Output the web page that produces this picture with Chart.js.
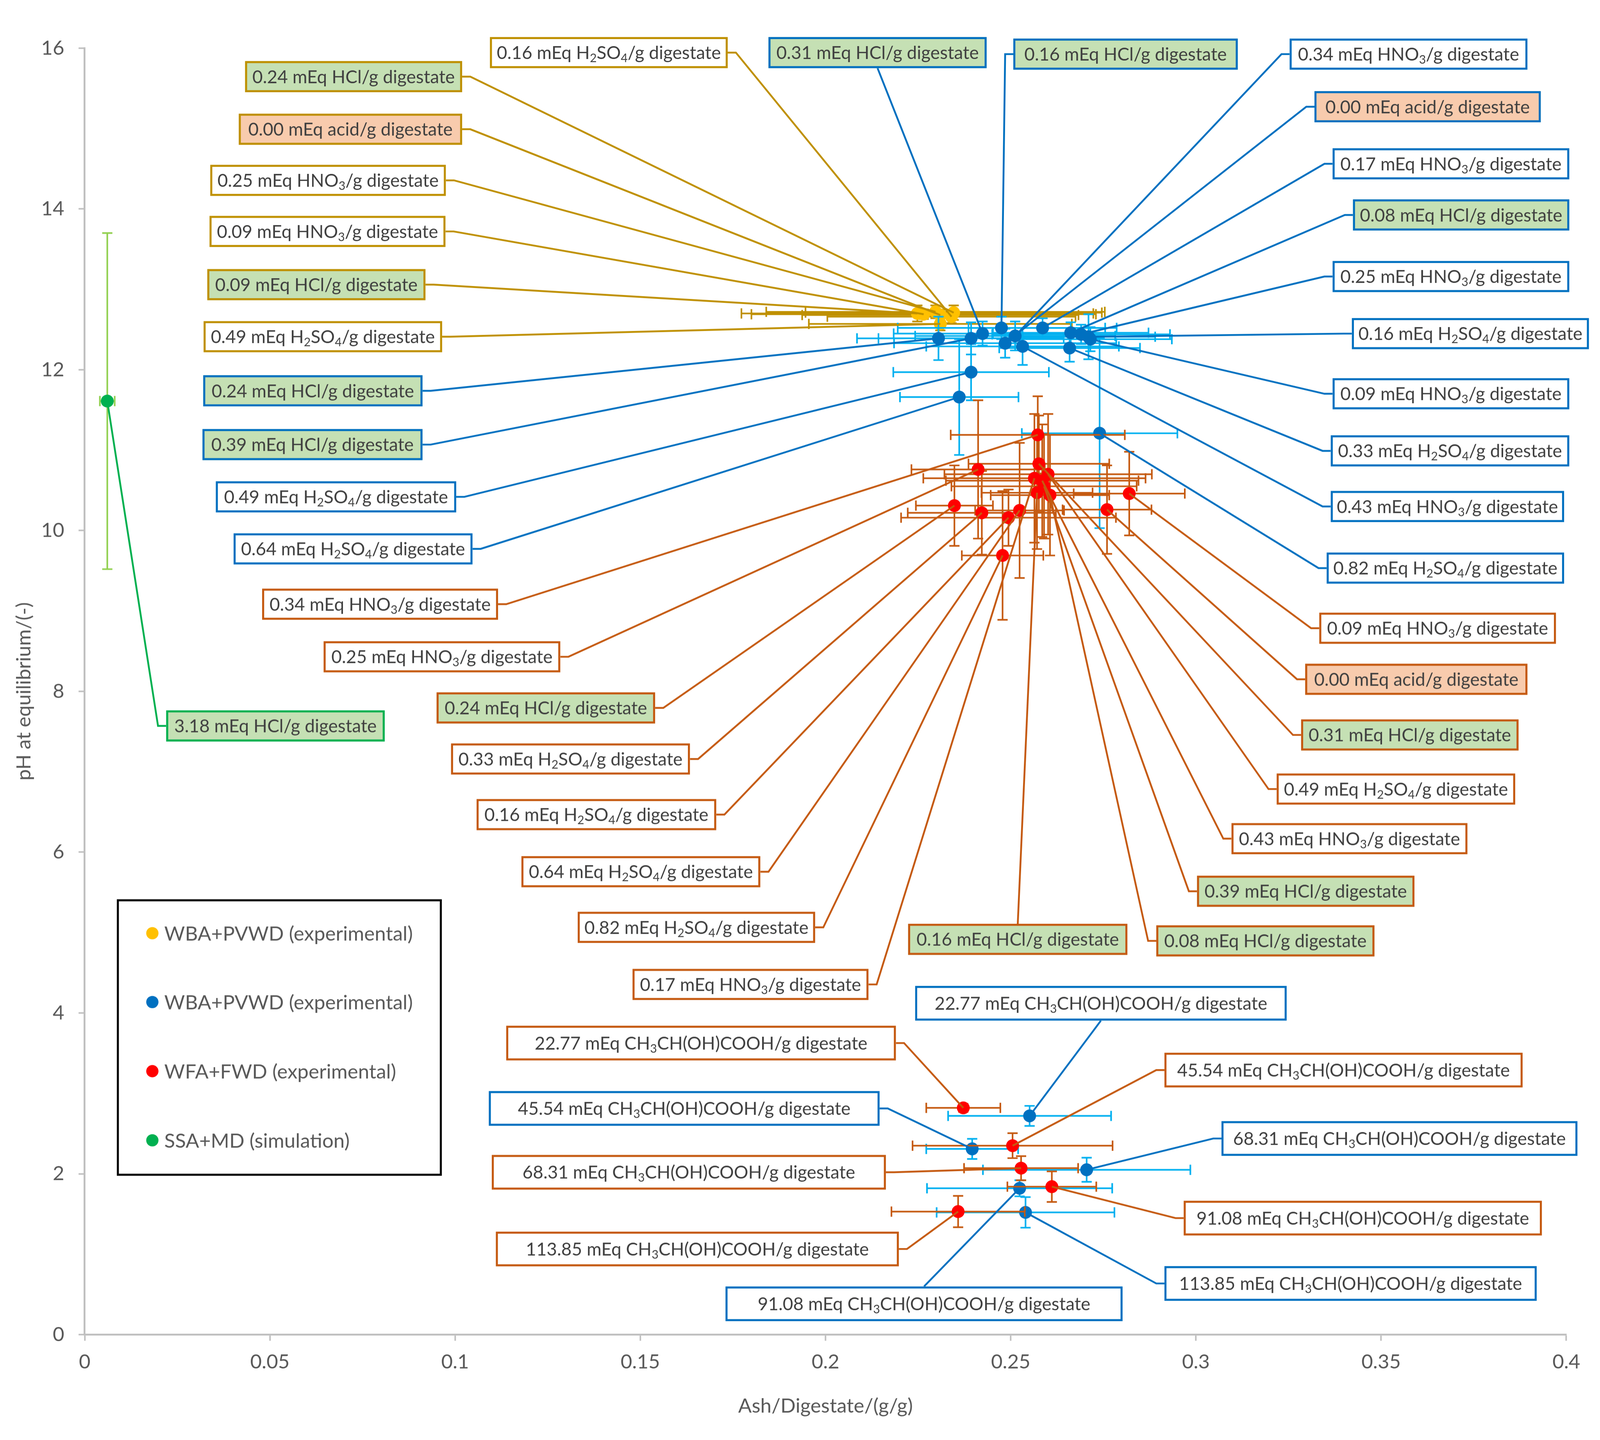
<!DOCTYPE html>
<html>
<head>
<meta charset="utf-8">
<script src="https://cdn.jsdelivr.net/npm/chart.js@4.4.1/dist/chart.umd.min.js"></script>
<style>
  html, body { margin: 0; padding: 0; overflow: hidden; background: #fff; }
  #wrap { position: absolute; left: 0; top: 0; transform-origin: 0 0; }
</style>
</head>
<body>
<div id="wrap"><canvas id="phChart"></canvas></div>
<script>
// axis ticks
const xTickLabels = ['0', '0.05', '0.1', '0.15', '0.2', '0.25', '0.3', '0.35', '0.4'];
const yTickLabels = ['0', '2', '4', '6', '8', '10', '12', '14', '16'];
const seriesNames = ['WBA+PVWD (experimental)', 'WBA+PVWD (experimental)', 'WFA+FWD (experimental)', 'SSA+MD (simulation)'];

// yellow series (WBA+PVWD)
const yellowX = [0.2340, 0.2346, 0.2310, 0.2297, 0.2265, 0.2248, 0.2310];
const yellowY = [12.66, 12.71, 12.68, 12.72, 12.69, 12.70, 12.57];
const yellowXErr = [0.0335, 0.0400, 0.0373, 0.0457, 0.0465, 0.0475, 0.0355];
const yellowYErr = [0.08, 0.09, 0.07, 0.08, 0.06, 0.10, 0.08];
const yellowText = ['0.16 mEq H{2}SO{4}/g digestate', '0.24 mEq HCl/g digestate', '0.00 mEq acid/g digestate',
  '0.25 mEq HNO{3}/g digestate', '0.09 mEq HNO{3}/g digestate', '0.09 mEq HCl/g digestate', '0.49 mEq H{2}SO{4}/g digestate'];

// blue series (WBA+PVWD)
const blueX = [0.2305, 0.2393, 0.2393, 0.2361, 0.2424, 0.2475, 0.2512, 0.2485, 0.2586, 0.2662, 0.2690, 0.2710, 0.2715, 0.2659, 0.2532, 0.2740,
  0.2551, 0.2396, 0.2705, 0.2524, 0.2540];
const blueY = [12.39, 12.39, 11.97, 11.66, 12.45, 12.52, 12.42, 12.33, 12.52, 12.46, 12.44, 12.41, 12.38, 12.27, 12.29, 11.21,
  2.72, 2.31, 2.05, 1.82, 1.52];
const blueXErr = [0.022, 0.025, 0.021, 0.016, 0.024, 0.028, 0.027, 0.030, 0.020, 0.021, 0.024, 0.018, 0.022, 0.019, 0.026, 0.021,
  0.022, 0.0124, 0.028, 0.025, 0.024];
const blueYErr = [0.27, 0.20, 0.35, 0.72, 0.15, 0.14, 0.18, 0.18, 0.12, 0.13, 0.12, 0.28, 0.15, 0.17, 0.23, 1.18,
  0.125, 0.125, 0.15, 0.10, 0.19];
const blueText = ['0.24 mEq HCl/g digestate', '0.39 mEq HCl/g digestate', '0.49 mEq H{2}SO{4}/g digestate', '0.64 mEq H{2}SO{4}/g digestate',
  '0.31 mEq HCl/g digestate', '0.16 mEq HCl/g digestate', '0.34 mEq HNO{3}/g digestate', '0.00 mEq acid/g digestate',
  '0.17 mEq HNO{3}/g digestate', '0.08 mEq HCl/g digestate', '0.25 mEq HNO{3}/g digestate', '0.16 mEq H{2}SO{4}/g digestate',
  '0.09 mEq HNO{3}/g digestate', '0.33 mEq H{2}SO{4}/g digestate', '0.43 mEq HNO{3}/g digestate', '0.82 mEq H{2}SO{4}/g digestate',
  '22.77 mEq CH{3}CH(OH)COOH/g digestate', '45.54 mEq CH{3}CH(OH)COOH/g digestate', '68.31 mEq CH{3}CH(OH)COOH/g digestate',
  '91.08 mEq CH{3}CH(OH)COOH/g digestate', '113.85 mEq CH{3}CH(OH)COOH/g digestate'];

// red series (WFA+FWD)
const redX = [0.2573, 0.2412, 0.2348, 0.2422, 0.2494, 0.2524, 0.2478, 0.2564, 0.2571, 0.2820, 0.2760, 0.2576, 0.2601, 0.2585, 0.2590, 0.2606,
  0.2372, 0.2505, 0.2528, 0.2611, 0.2358];
const redY = [11.19, 10.76, 10.31, 10.22, 10.16, 10.25, 9.69, 10.65, 10.47, 10.46, 10.26, 10.83, 10.70, 10.62, 10.55, 10.44,
  2.82, 2.35, 2.07, 1.84, 1.53];
const redXErr = [0.0235, 0.018, 0.0104, 0.020, 0.029, 0.012, 0.011, 0.030, 0.015, 0.015, 0.012, 0.019, 0.028, 0.026, 0.025, 0.016,
  0.010, 0.027, 0.0154, 0.012, 0.018];
const redYErr = [0.48, 0.86, 0.50, 0.52, 0.35, 0.84, 0.80, 0.80, 0.70, 0.52, 0.55, 0.60, 0.75, 0.70, 0.65, 0.75,
  0.05, 0.155, 0.15, 0.19, 0.195];
const redText = ['0.34 mEq HNO{3}/g digestate', '0.25 mEq HNO{3}/g digestate', '0.24 mEq HCl/g digestate', '0.33 mEq H{2}SO{4}/g digestate',
  '0.16 mEq H{2}SO{4}/g digestate', '0.64 mEq H{2}SO{4}/g digestate', '0.82 mEq H{2}SO{4}/g digestate', '0.17 mEq HNO{3}/g digestate',
  '0.16 mEq HCl/g digestate', '0.09 mEq HNO{3}/g digestate', '0.00 mEq acid/g digestate', '0.31 mEq HCl/g digestate',
  '0.49 mEq H{2}SO{4}/g digestate', '0.43 mEq HNO{3}/g digestate', '0.39 mEq HCl/g digestate', '0.08 mEq HCl/g digestate',
  '22.77 mEq CH{3}CH(OH)COOH/g digestate', '45.54 mEq CH{3}CH(OH)COOH/g digestate', '68.31 mEq CH{3}CH(OH)COOH/g digestate',
  '91.08 mEq CH{3}CH(OH)COOH/g digestate', '113.85 mEq CH{3}CH(OH)COOH/g digestate'];

// green series (SSA+MD)
const greenX = [0.0061];
const greenY = [11.61];
const greenXErr = [0.002];
const greenYErr = [2.09];
const greenText = ['3.18 mEq HCl/g digestate'];

// label box layout, in axis units: [left x, right x, centre y]
const yellowBoxes = [[0.1094, 0.1736, 15.944], [0.0433, 0.1019, 15.645], [0.0416, 0.1019, 14.991], [0.0339, 0.0975, 14.355],
  [0.0337, 0.0974, 13.720], [0.0331, 0.0920, 13.058], [0.0321, 0.0965, 12.411]];
const blueBoxes = [[0.0320, 0.0912, 11.738], [0.0318, 0.0912, 11.069], [0.0354, 0.1003, 10.419], [0.0402, 0.1047, 9.772],
  [0.1846, 0.2435, 15.944], [0.2507, 0.3113, 15.925], [0.3253, 0.3895, 15.925], [0.3320, 0.3931, 15.271],
  [0.3369, 0.4008, 14.561], [0.3424, 0.4008, 13.925], [0.3369, 0.4008, 13.159], [0.3421, 0.4061, 12.449],
  [0.3369, 0.4008, 11.701], [0.3364, 0.4008, 10.991], [0.3364, 0.3994, 10.299], [0.3353, 0.3994, 9.533],
  [0.2242, 0.3245, 4.121], [0.1091, 0.2146, 2.813], [0.3069, 0.4030, 2.439], [0.1730, 0.2802, 0.383], [0.2915, 0.3920, 0.636]];
const redBoxes = [[0.0479, 0.1116, 9.084], [0.0645, 0.1284, 8.430], [0.0950, 0.1540, 7.794], [0.0989, 0.1634, 7.159],
  [0.1058, 0.1705, 6.467], [0.1179, 0.1824, 5.757], [0.1331, 0.1972, 5.065], [0.1479, 0.2116, 4.355],
  [0.2223, 0.2815, 4.916], [0.3333, 0.3972, 8.785], [0.3295, 0.3895, 8.150], [0.3284, 0.3871, 7.458],
  [0.3218, 0.3862, 6.785], [0.3096, 0.3733, 6.168], [0.3003, 0.3590, 5.514], [0.2893, 0.3482, 4.897],
  [0.1138, 0.2190, 3.626], [0.2915, 0.3882, 3.290], [0.1099, 0.2163, 2.019], [0.2967, 0.3934, 1.449], [0.1110, 0.2198, 1.065]];
const greenBoxes = [[0.0220, 0.0810, 7.570]];

const FAMILY = 'Lato, "Open Sans", sans-serif';
// the drawing is laid out on a 1568-wide frame; height follows the window
const W = 1568;
const S = window.innerWidth / W;
const H = window.innerHeight / S;
const K = H / (W * 3686 / 6031);
const wrap = document.getElementById('wrap');
wrap.style.width = W + 'px';
wrap.style.height = H + 'px';
wrap.style.transform = 'scale(' + S + ')';

const mctx = document.createElement('canvas').getContext('2d');
function fitSize(str, target) {
  mctx.font = '100px ' + FAMILY;
  return 100 * target / mctx.measureText(str).width;
}
const labelSize = fitSize('0.24 mEq HCl/g digestate', 198.5);
const axisSize = fitSize('WBA+PVWD (experimental)', 243.6);

function pts(xs, ys) { return xs.map((x, i) => ({ x: x, y: ys[i] })); }

function richParts(text) {
  const parts = [];
  const re = /\{([^}]*)\}/g;
  let last = 0, m;
  while ((m = re.exec(text))) {
    if (m.index > last) parts.push({ t: text.slice(last, m.index), sub: false });
    parts.push({ t: m[1], sub: true });
    last = re.lastIndex;
  }
  if (last < text.length) parts.push({ t: text.slice(last), sub: false });
  return parts;
}

function drawRich(ctx, text, cx, cy, size) {
  const parts = richParts(text);
  const fMain = size + 'px ' + FAMILY, fSub = (size * 0.66) + 'px ' + FAMILY;
  let w = 0;
  parts.forEach(p => { ctx.font = p.sub ? fSub : fMain; p.w = ctx.measureText(p.t).width; w += p.w; });
  let x = cx - w / 2;
  const base = cy + size * 0.36;
  ctx.textAlign = 'left';
  ctx.textBaseline = 'alphabetic';
  parts.forEach(p => {
    ctx.font = p.sub ? fSub : fMain;
    ctx.fillText(p.t, x, p.sub ? base + size * 0.17 : base);
    x += p.w;
  });
}

const errorBars = {
  id: 'errorBars',
  beforeDatasetDraw(chart, args) {
    const ds = chart.data.datasets[args.index];
    const ctx = chart.ctx, xs = chart.scales.x, ys = chart.scales.y;
    ctx.save();
    ctx.strokeStyle = ds.errColor;
    ctx.lineWidth = 1.6;
    ds.data.forEach((p, i) => {
      const cx = xs.getPixelForValue(p.x), cy = ys.getPixelForValue(p.y);
      const xl = xs.getPixelForValue(p.x - ds.xErr[i]), xr = xs.getPixelForValue(p.x + ds.xErr[i]);
      const yt = ys.getPixelForValue(p.y + ds.yErr[i]), yb = ys.getPixelForValue(p.y - ds.yErr[i]);
      ctx.beginPath();
      ctx.moveTo(xl, cy); ctx.lineTo(xr, cy);
      ctx.moveTo(xl, cy - 5); ctx.lineTo(xl, cy + 5);
      ctx.moveTo(xr, cy - 5); ctx.lineTo(xr, cy + 5);
      ctx.moveTo(cx, yt); ctx.lineTo(cx, yb);
      ctx.moveTo(cx - 5, yt); ctx.lineTo(cx + 5, yt);
      ctx.moveTo(cx - 5, yb); ctx.lineTo(cx + 5, yb);
      ctx.stroke();
    });
    ctx.restore();
  }
};

const calloutLabels = {
  id: 'calloutLabels',
  afterDatasetsDraw(chart) {
    const ctx = chart.ctx, xs = chart.scales.x, ys = chart.scales.y;
    const items = [];
    chart.data.datasets.forEach(ds => {
      ds.data.forEach((p, i) => {
        const b = ds.boxes[i];
        const h = ds.texts[i].indexOf('COOH') >= 0 ? 34 : 30.5;
        const x0 = xs.getPixelForValue(b[0]), x1 = xs.getPixelForValue(b[1]);
        const yc = ys.getPixelForValue(b[2]);
        items.push({ ds: ds, text: ds.texts[i], x0: x0, x1: x1, y0: yc - h / 2, y1: yc + h / 2, yc: yc,
          px: xs.getPixelForValue(p.x), py: ys.getPixelForValue(p.y) });
      });
    });
    ctx.save();
    ctx.lineWidth = 1.8;
    items.forEach(it => {
      ctx.strokeStyle = it.ds.lineColor;
      ctx.beginPath();
      if (it.px < it.x0) {
        ctx.moveTo(it.x0, it.yc); ctx.lineTo(it.x0 - 8, it.yc);
      } else if (it.px > it.x1) {
        ctx.moveTo(it.x1, it.yc); ctx.lineTo(it.x1 + 8, it.yc);
      } else if (it.py > it.y1) {
        ctx.moveTo((it.x0 + it.x1) / 2, it.y1);
      } else {
        ctx.moveTo((it.x0 + it.x1) / 2, it.y0);
      }
      ctx.lineTo(it.px, it.py);
      ctx.stroke();
    });
    items.forEach(it => {
      let fill = '#FFFFFF';
      if (it.text.indexOf('HCl') >= 0) fill = '#C5E0B4';
      if (it.text.indexOf('acid') >= 0) fill = '#F8CBAD';
      ctx.fillStyle = fill;
      ctx.fillRect(it.x0, it.y0, it.x1 - it.x0, it.y1 - it.y0);
      ctx.strokeStyle = it.ds.lineColor;
      ctx.lineWidth = 2;
      ctx.strokeRect(it.x0 + 1, it.y0 + 1, it.x1 - it.x0 - 2, it.y1 - it.y0 - 2);
      ctx.fillStyle = '#404040';
      drawRich(ctx, it.text, (it.x0 + it.x1) / 2, it.yc, labelSize);
    });
    ctx.restore();
  }
};

const boxLegend = {
  id: 'boxLegend',
  afterDraw(chart) {
    const ctx = chart.ctx;
    const colors = ['#FFC000', '#0070C0', '#FF0000', '#00B050'];
    const rows = [620.9, 666.7, 712.7, 758.7].map(v => v * K);
    ctx.save();
    ctx.fillStyle = '#FFFFFF';
    ctx.fillRect(115.5, 599 * K, 316.5, 182.6 * K);
    ctx.strokeStyle = '#000000';
    ctx.lineWidth = 2;
    ctx.strokeRect(115.5, 599 * K, 316.5, 182.6 * K);
    ctx.font = axisSize + 'px ' + FAMILY;
    ctx.textAlign = 'left';
    ctx.textBaseline = 'middle';
    seriesNames.forEach((name, i) => {
      ctx.fillStyle = colors[i];
      ctx.beginPath();
      ctx.arc(149.3, rows[i], 6, 0, Math.PI * 2);
      ctx.fill();
      ctx.fillStyle = '#595959';
      ctx.fillText(name, 161, rows[i] + 1);
    });
    ctx.restore();
  }
};

function makeSet(name, xs, ys, xe, ye, texts, boxes, color, errColor, lineColor, order) {
  return {
    label: name, data: pts(xs, ys), xErr: xe, yErr: ye, texts: texts, boxes: boxes,
    errColor: errColor, lineColor: lineColor, order: order, clip: false,
    backgroundColor: color, borderColor: color, borderWidth: 0,
    pointRadius: 6.3, pointHoverRadius: 6.3, pointStyle: 'circle'
  };
}

const titleLine = axisSize * 1.2;

new Chart(document.getElementById('phChart').getContext('2d'), {
  type: 'scatter',
  data: {
    datasets: [
      makeSet(seriesNames[0], yellowX, yellowY, yellowXErr, yellowYErr, yellowText, yellowBoxes, '#FFC000', '#BF9000', '#BF9000', 4),
      makeSet(seriesNames[1], blueX, blueY, blueXErr, blueYErr, blueText, blueBoxes, '#0070C0', '#00B0F0', '#0070C0', 3),
      makeSet(seriesNames[2], redX, redY, redXErr, redYErr, redText, redBoxes, '#FF0000', '#C55A11', '#C55A11', 2),
      makeSet(seriesNames[3], greenX, greenY, greenXErr, greenYErr, greenText, greenBoxes, '#00B050', '#92D050', '#00B050', 1)
    ]
  },
  options: {
    responsive: true,
    maintainAspectRatio: false,
    animation: false,
    devicePixelRatio: S,
    layout: { padding: { left: 0, top: 32 * K, right: 33, bottom: 0 } },
    plugins: { legend: { display: false }, tooltip: { enabled: false } },
    scales: {
      x: {
        type: 'linear', min: 0, max: 0.4,
        afterFit: s => { s.height = H - 888 * K; },
        grid: { drawOnChartArea: false, drawTicks: true, tickLength: 6, tickColor: '#BFBFBF', tickWidth: 1.5 },
        border: { color: '#BFBFBF', width: 1.8 },
        ticks: { stepSize: 0.05, autoSkip: false, maxRotation: 0, padding: 9, color: '#595959',
          font: { family: FAMILY, size: axisSize },
          callback: (v, i) => xTickLabels[i] },
        title: { display: true, text: 'Ash/Digestate/(g/g)', color: '#595959',
          font: { family: FAMILY, size: axisSize },
          padding: { top: 0, bottom: Math.max(4, H - 935.5 * K - titleLine / 2) } }
      },
      y: {
        type: 'linear', min: 0, max: 16,
        afterFit: s => { s.width = 83; },
        grid: { drawOnChartArea: false, drawTicks: true, tickLength: 6, tickColor: '#BFBFBF', tickWidth: 1.5 },
        border: { color: '#BFBFBF', width: 1.8 },
        ticks: { stepSize: 2, autoSkip: false, padding: 14, color: '#595959',
          font: { family: FAMILY, size: axisSize },
          callback: (v, i) => yTickLabels[i] },
        title: { display: true, text: 'pH at equilibrium/(-)', color: '#595959',
          font: { family: FAMILY, size: axisSize }, padding: { top: 12, bottom: 0 } }
      }
    }
  },
  plugins: [errorBars, calloutLabels, boxLegend]
});
</script>
</body>
</html>
